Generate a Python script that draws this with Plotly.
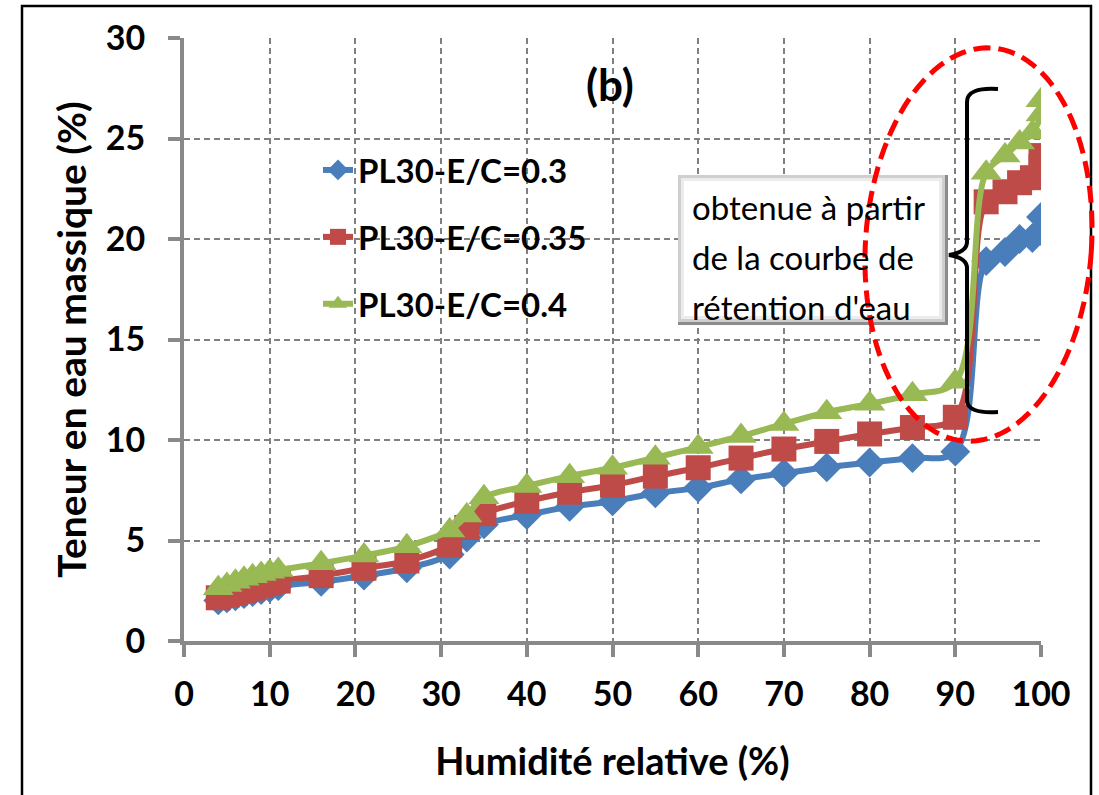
import math
import plotly.graph_objects as go

# Relative humidity (%) and water content by mass (%) for three W/C ratios
rh = [4, 5, 6, 7, 8, 9, 10, 11, 16, 21, 26, 31, 33, 35, 40, 45, 50, 55, 60, 65,
      70, 75, 80, 85, 90, 93.6, 95.8, 97.5, 99, 100, 100]
wc_030 = [2.02, 2.12, 2.22, 2.33, 2.43, 2.53, 2.63, 2.74, 2.95, 3.25, 3.62, 4.3,
          5.15, 5.8, 6.27, 6.68, 6.95, 7.35, 7.62, 8.04, 8.34, 8.64, 8.88, 9.1,
          9.42, 18.9, 19.35, 20.0, 20.05, 20.4, 21.1]
wc_035 = [2.15, 2.27, 2.39, 2.51, 2.63, 2.75, 2.87, 2.98, 3.25, 3.62, 3.98, 4.77,
          5.65, 6.33, 6.95, 7.4, 7.75, 8.2, 8.62, 9.1, 9.55, 9.93, 10.3, 10.62,
          11.13, 21.85, 22.35, 22.8, 23.05, 23.6, 24.15]
wc_040 = [2.62, 2.79, 2.95, 3.1, 3.22, 3.33, 3.44, 3.53, 3.87, 4.25, 4.71, 5.5,
          6.25, 7.15, 7.71, 8.2, 8.62, 9.12, 9.65, 10.2, 10.8, 11.38, 11.8, 12.27,
          12.9, 23.3, 24.15, 24.8, 25.3, 26.2, 26.9]

series_names = ["PL30-E/C=0.3", "PL30-E/C=0.35", "PL30-E/C=0.4"]
x_tick_vals = [0, 10, 20, 30, 40, 50, 60, 70, 80, 90, 100]
y_tick_vals = [0, 5, 10, 15, 20, 25, 30]

note_lines = ["obtenue à partir", "de la courbe de", "rétention d'eau"]
panel_label = "(b)"
x_title = "Humidité relative (%)"
y_title = "Teneur en eau massique (%)"

W, H = 1099, 795
PL, PR, PT, PB = 184, 1041, 38, 641  # plot area in pixels

FONT = "Lato, 'Open Sans', sans-serif"
GRID = "#808080"
AXIS = "#898989"


def px(x):
    return (x - PL) / (PR - PL)


def py(y):
    return (PB - y) / (PB - PT)


styles = [
    dict(color="#4A7EBB", symbol="diamond", size=23),
    dict(color="#BE4B48", symbol="square", size=25),
    dict(color="#98B954", symbol="triangle-up", size=27),
]

fig = go.Figure()
for i, (name, vals, st) in enumerate(zip(series_names, [wc_030, wc_035, wc_040], styles)):
    fig.add_trace(go.Scatter(
        x=rh, y=vals, name=name, mode="lines+markers",
        legendgroup=f"g{i}",
        line=dict(color=st["color"], width=6, shape="spline", smoothing=1),
        marker=dict(symbol=st["symbol"], size=st["size"], color=st["color"],
                    line=dict(width=0)),
    ))

shapes = []
# outer frame
shapes.append(dict(type="rect", xref="paper", yref="paper",
                   x0=px(22), x1=px(1091), y0=py(810), y1=py(6),
                   line=dict(color="black", width=2.5), layer="above"))
# white backdrop behind the legend (hides grid)
shapes.append(dict(type="rect", xref="paper", yref="paper",
                   x0=px(250), x1=px(640), y0=py(342), y1=py(134),
                   fillcolor="white", line=dict(width=0), layer="between"))

# note box with bevel
bx0, bx1, by0, by1 = 678, 948, 175, 325
shapes.append(dict(type="rect", xref="paper", yref="paper",
                   x0=px(bx0), x1=px(bx1), y0=py(by1), y1=py(by0),
                   fillcolor="#8c8c8c", line=dict(width=0), layer="above"))
shapes.append(dict(type="rect", xref="paper", yref="paper",
                   x0=px(bx0), x1=px(bx1 - 3), y0=py(by1 - 3), y1=py(by0),
                   fillcolor="#cfcfcf", line=dict(width=0), layer="above"))
shapes.append(dict(type="rect", xref="paper", yref="paper",
                   x0=px(bx0 + 3), x1=px(bx1 - 6), y0=py(by1 - 6), y1=py(by0 + 3),
                   fillcolor="#ececec", line=dict(width=0), layer="above"))
shapes.append(dict(type="rect", xref="paper", yref="paper",
                   x0=px(bx0 + 6), x1=px(bx1 - 9), y0=py(by1 - 9), y1=py(by0 + 6),
                   fillcolor="white", line=dict(width=0), layer="above"))

# curly bracket
pts = "M {},{} Q {},{} {},{} L {},{} Q {},{} {},{} Q {},{} {},{} L {},{} Q {},{} {},{}".format(
    px(998), py(89), px(967), py(87), px(967), py(102),
    px(967), py(242),
    px(967), py(252), px(949), py(255),
    px(967), py(258), px(967), py(268),
    px(967), py(400),
    px(967), py(414), px(998), py(412))
shapes.append(dict(type="path", xref="paper", yref="paper", path=pts,
                   line=dict(color="black", width=4), layer="above"))

# dashed ellipse around the high-humidity region
cx, cy, a, b, th = 978.5, 244.5, 113, 197, math.radians(4)
ell = []
for k in range(121):
    t = 2 * math.pi * k / 120
    dx, dy = a * math.cos(t), b * math.sin(t)
    X = cx + dx * math.cos(th) - dy * math.sin(th)
    Y = cy + dx * math.sin(th) + dy * math.cos(th)
    ell.append(("M" if k == 0 else "L") + f"{px(X):.5f},{py(Y):.5f}")
shapes.append(dict(type="path", xref="paper", yref="paper", path=" ".join(ell) + " Z",
                   line=dict(color="#FF0000", width=5, dash="17px,8px"), layer="above"))

annotations = []
for j, line in enumerate(note_lines):
    annotations.append(dict(xref="paper", yref="paper", x=px(690), y=py(207 + 50 * j),
                            xanchor="left", yanchor="middle", showarrow=False,
                            text=line, font=dict(family=FONT, size=33, color="black")))
annotations.append(dict(xref="paper", yref="paper", x=px(610), y=py(84),
                        xanchor="center", yanchor="middle", showarrow=False,
                        text=panel_label,
                        font=dict(family=FONT, size=44, color="black", weight="bold")))

axis_common = dict(
    showline=True, linecolor=AXIS, linewidth=4,
    ticks="outside", ticklen=12, tickwidth=4, tickcolor=AXIS,
    showgrid=True, gridcolor=GRID, gridwidth=2, griddash="6px,4px",
    zeroline=False, mirror=False,
    tickfont=dict(family=FONT, size=34, color="black", weight="bold"),
)

fig.update_layout(
    width=W, height=H,
    margin=dict(l=PL, r=W - PR, t=PT, b=H - PB, autoexpand=False),
    paper_bgcolor="white", plot_bgcolor="white",
    showlegend=True,
    legend=dict(x=px(318), y=py(142), xanchor="left", yanchor="top",
                bgcolor="rgba(0,0,0,0)", tracegroupgap=21,
                font=dict(family=FONT, size=33, color="black", weight="bold"),
                itemsizing="trace"),
    xaxis=dict(range=[0, 100], tickvals=x_tick_vals, ticklabelstandoff=8,
               title=dict(text=x_title, standoff=38,
                          font=dict(family=FONT, size=38, color="black", weight="bold")),
               **axis_common),
    yaxis=dict(range=[0, 30], tickvals=y_tick_vals, ticklabelstandoff=16,
               title=dict(text=y_title, standoff=8,
                          font=dict(family=FONT, size=39, color="black", weight="bold")),
               **axis_common),
    shapes=shapes,
    annotations=annotations,
)

fig.write_html("out.html")
